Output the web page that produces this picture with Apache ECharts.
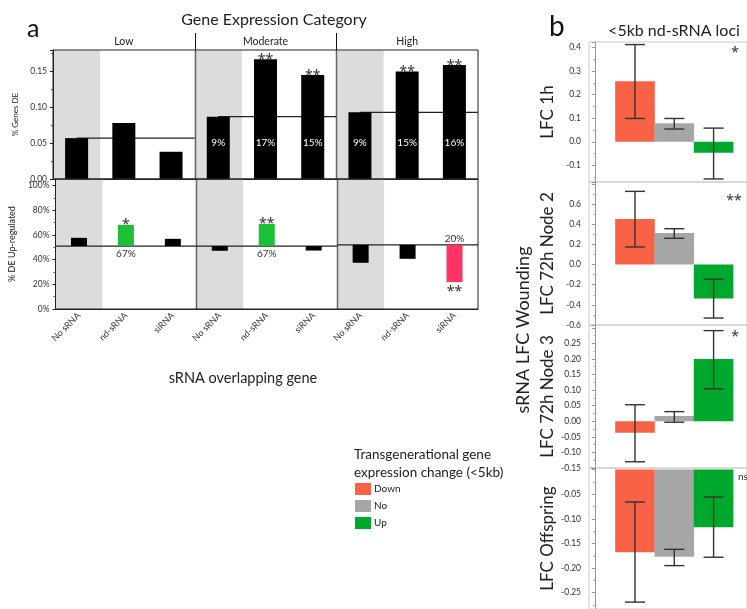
<!DOCTYPE html>
<html>
<head>
<meta charset="utf-8">
<script src="https://cdn.jsdelivr.net/npm/echarts@6.0.0/dist/echarts.min.js"></script>
<style>
html,body{margin:0;padding:0;background:#ffffff;}
#chart{width:747px;height:609px;}
</style>
</head>
<body>
<div id="chart"></div>
<script>
// ---------- Panel a data ----------
const facets = ['Low', 'Moderate', 'High'];
const srnaTypes = ['No sRNA', 'nd-sRNA', 'siRNA'];
const pctGenesDE = [0.057, 0.078, 0.038, 0.087, 0.167, 0.145, 0.093, 0.150, 0.159];
const deInsideLabels = ['', '', '', '9%', '17%', '15%', '9%', '15%', '16%'];
const deStars = ['', '', '', '', '**', '**', '', '**', '**'];
const pctUpRegulated = [57.7, 68.2, 56.9, 47.2, 69.0, 47.4, 37.5, 40.7, 21.8];
const upBaselines = [51, 51, 52];
const upHighlight = ['', 'up', '', '', 'up', '', '', '', 'down'];
const upPctLabels = ['', '67%', '', '', '67%', '', '', '', '20%'];
const upStars = ['', '*', '', '', '**', '', '', '', '**'];
const deTicks = ['0.00', '0.05', '0.10', '0.15'];
const upTicks = ['0%', '20%', '40%', '60%', '80%', '100%'];

// ---------- Panel b data ----------
const lfcGroups = ['Down', 'No', 'Up'];
const lfc1h = [0.257, 0.079, -0.047];
const lfc1hErr = [[0.099, 0.413], [0.054, 0.099], [-0.158, 0.058]];
const lfcNode2 = [0.452, 0.314, -0.337];
const lfcNode2Err = [[0.175, 0.727], [0.261, 0.356], [-0.531, -0.145]];
const lfcNode3 = [-0.037, 0.017, 0.200];
const lfcNode3Err = [[-0.130, 0.053], [-0.003, 0.031], [0.104, 0.291]];
const lfcOffspring = [-0.168, -0.177, -0.117];
const lfcOffspringErr = [[-0.269, -0.066], [-0.195, -0.162], [-0.178, -0.056]];
const lfcPanelNames = ['LFC 1h', 'LFC 72h Node 2', 'LFC 72h Node 3', 'LFC Offspring'];
const lfcSig = ['*', '**', '*', 'ns'];
const ticks1h = ['-0.1', '0.0', '0.1', '0.2', '0.3', '0.4'];
const ticksNode2 = ['-0.6', '-0.4', '-0.2', '0.0', '0.2', '0.4', '0.6'];
const ticksNode3 = ['-0.15', '-0.10', '-0.05', '0.00', '0.05', '0.10', '0.15', '0.20', '0.25'];
const ticksOffspring = ['-0.25', '-0.20', '-0.15', '-0.10', '-0.05'];

// ---------- styling ----------
const FONT = 'Lato, "Open Sans", "Noto Sans", sans-serif';
const STAR_FONT = '"Noto Sans", "DejaVu Sans", sans-serif';
const COL = {
  down: '#f96244', no: '#a6a6a6', up: '#00a82d',
  upGreen: '#1dbf36', downPink: '#ff3366', band: '#dcdcdc'
};
const groupColors = [COL.down, COL.no, COL.up];

const xKeys = [];
facets.forEach(f => srnaTypes.forEach(t => xKeys.push(f + '|' + t)));
const bandIdx = facets.map((_, f) => f * srnaTypes.length);
const facetBreaks = bandIdx.slice(1);

function bandRender(params, api) {
  const cs = params.coordSys;
  const c = api.coord([api.value(0), 0]);
  const w = api.size([1, 0])[0];
  return {type: 'rect', shape: {x: c[0] - w / 2, y: cs.y + 0.5, width: w, height: cs.height - 0.5}, style: {fill: COL.band}};
}
function sepRender(params, api) {
  const cs = params.coordSys;
  const c = api.coord([api.value(0), 0]);
  const w = api.size([1, 0])[0];
  const x = Math.round(c[0] - w / 2) + 0.5;
  return {type: 'line', shape: {x1: x, y1: cs.y, x2: x, y2: cs.y + cs.height},
    style: {stroke: params.seriesName === 'strip' ? '#111' : '#666', lineWidth: params.seriesName === 'strip' ? 1 : 1.5}};
}
function deRefRender(params, api) {
  const f = api.value(0), v = api.value(1);
  const n = srnaTypes.length;
  const a = api.coord([f * n, v]);
  const b = api.coord([f * n + n - 1, v]);
  const w = api.size([1, 0])[0];
  return {type: 'line', shape: {x1: a[0], y1: a[1], x2: b[0] + w / 2, y2: a[1]}, style: {stroke: '#222', lineWidth: 1.2}};
}
function upRefRender(params, api) {
  const f = api.value(0), v = api.value(1);
  const n = srnaTypes.length;
  const a = api.coord([f * n, v]);
  const b = api.coord([f * n + n - 1, v]);
  const w = api.size([1, 0])[0];
  return {type: 'line', shape: {x1: a[0] - w / 2, y1: a[1], x2: b[0] + w / 2, y2: a[1]}, style: {stroke: '#222', lineWidth: 1.2}};
}
function starRender(params, api) {
  const i = api.value(0);
  const c = api.coord([i, api.value(1)]);
  return {type: 'text', style: {text: deStars[i], x: c[0], y: c[1] + 1, align: 'center', verticalAlign: 'middle',
    fontSize: 14, fontFamily: STAR_FONT, fill: '#333'}};
}
function upBarRender(params, api) {
  const i = api.value(0), v = api.value(1), base = api.value(2);
  const t = api.coord([i, v]), b = api.coord([i, base]);
  const w = 16;
  const hl = upHighlight[i];
  const fill = hl === 'up' ? COL.upGreen : (hl === 'down' ? COL.downPink : '#000');
  const children = [{type: 'rect', shape: {x: t[0] - w / 2, y: Math.min(t[1], b[1]), width: w, height: Math.abs(t[1] - b[1])}, style: {fill}}];
  const isUp = v >= base;
  if (upStars[i]) children.push({type: 'text', style: {text: upStars[i], x: t[0], y: isUp ? t[1] + 0.5 : t[1] + 10,
    align: 'center', verticalAlign: 'middle', fontSize: 14, fontFamily: STAR_FONT, fill: '#333'}});
  if (upPctLabels[i]) children.push({type: 'text', style: {text: upPctLabels[i], x: t[0], y: isUp ? b[1] + 8 : b[1] - 6,
    align: 'center', verticalAlign: 'middle', fontSize: 10, fontFamily: FONT, fill: '#333'}});
  return {type: 'group', children};
}
function errRender(params, api) {
  const x = api.value(0);
  const lo = api.coord([x, api.value(1)]);
  const hi = api.coord([x, api.value(2)]);
  const cap = 10;
  const st = {stroke: '#333', lineWidth: 1.4};
  return {type: 'group', children: [
    {type: 'line', shape: {x1: lo[0], y1: lo[1], x2: hi[0], y2: hi[1]}, style: st},
    {type: 'line', shape: {x1: lo[0] - cap, y1: lo[1], x2: lo[0] + cap, y2: lo[1]}, style: st},
    {type: 'line', shape: {x1: hi[0] - cap, y1: hi[1], x2: hi[0] + cap, y2: hi[1]}, style: st}
  ]};
}
function tickFormatter(list) {
  const dec = (list[0].split('.')[1] || '').length;
  return v => {
    let s = v.toFixed(dec);
    if (/^-0\.0*$/.test(s)) s = s.slice(1);
    return list.includes(s) ? s : '';
  };
}

// ---------- grids ----------
const grids = [
  {left: 53, top: 33, width: 425, height: 17},                                   // 0 strip
  {left: 53, top: 50, width: 425, height: 129, show: true, borderColor: '#222', borderWidth: 1, z: 10, backgroundColor: 'transparent'}, // 1
  {left: 53, top: 179, width: 425, height: 130, show: true, borderColor: '#222', borderWidth: 1, z: 10, backgroundColor: 'transparent'}, // 2
  {left: 589, top: 42, width: 162, height: 140, show: true, borderColor: '#cccccc', borderWidth: 1},  // 3
  {left: 589, top: 182, width: 162, height: 143, show: true, borderColor: '#cccccc', borderWidth: 1}, // 4
  {left: 589, top: 325, width: 162, height: 143, show: true, borderColor: '#cccccc', borderWidth: 1}, // 5
  {left: 589, top: 468, width: 162, height: 145, show: true, borderColor: '#cccccc', borderWidth: 1}, // 6
  {left: 0, top: 0, width: 1, height: 1}                                          // 7 legend dummy
];

const xAxes = [
  {gridIndex: 0, type: 'category', data: facets, axisLine: {show: false}, axisTick: {show: false},
    axisLabel: {inside: true, margin: 3, fontSize: 10.5, color: '#222', fontFamily: FONT}},
  {gridIndex: 1, type: 'category', data: xKeys, axisLine: {lineStyle: {color: '#222'}}, axisTick: {show: false}, axisLabel: {show: false}},
  {gridIndex: 2, type: 'category', data: xKeys, axisLine: {lineStyle: {color: '#222'}}, axisTick: {show: false},
    axisLabel: {interval: 0, rotate: 45, fontSize: 9, color: '#333', fontFamily: FONT, margin: 5, formatter: v => v.split('|')[1]}},
];
const bOpts = [
  {min: -0.171, max: 0.424, split: 5, ticks: ticks1h},
  {min: -0.6, max: 0.82, split: 7, ticks: ticksNode2},
  {min: -0.15, max: 0.309, split: 9, ticks: ticksNode3},
  {min: -0.283, max: 0.003, split: 6, ticks: ticksOffspring}
];
for (let k = 0; k < 4; k++) xAxes.push({gridIndex: 3 + k, type: 'value', min: -0.17, max: 3.85, show: false});
xAxes.push({gridIndex: 7, type: 'category', data: ['x'], show: false});

const axisLabelA = {fontSize: 8.5, color: '#333', fontFamily: FONT, margin: 6};
const yAxes = [
  {gridIndex: 0, type: 'value', min: 0, max: 1, show: false},
  {gridIndex: 1, type: 'value', min: 0, max: 0.18, interval: 0.05, z: 12,
    axisLine: {show: true, lineStyle: {color: '#222'}}, axisTick: {show: true, length: 3, lineStyle: {color: '#222'}},
    minorTick: {show: true, splitNumber: 2, length: 2, lineStyle: {color: '#555'}}, splitLine: {show: false},
    axisLabel: Object.assign({}, axisLabelA, {formatter: tickFormatter(deTicks)}),
    name: '% Genes DE', nameLocation: 'middle', nameGap: 31, nameTextStyle: {fontSize: 8, color: '#222', fontFamily: FONT}},
  {gridIndex: 2, type: 'value', min: 0, max: 105.4, interval: 20, z: 12,
    axisLine: {show: true, lineStyle: {color: '#222'}}, axisTick: {show: true, length: 3, lineStyle: {color: '#222'}},
    minorTick: {show: true, splitNumber: 2, length: 2, lineStyle: {color: '#555'}}, splitLine: {show: false},
    axisLabel: Object.assign({}, axisLabelA, {formatter: v => { const s = Math.round(v) + '%'; return upTicks.includes(s) && Math.abs(v - Math.round(v)) < 1e-6 ? s : ''; }}),
    name: '% DE Up-regulated', nameLocation: 'middle', nameGap: 36, nameTextStyle: {fontSize: 9, color: '#222', fontFamily: FONT}}
];
bOpts.forEach((o, k) => yAxes.push({
  gridIndex: 3 + k, type: 'value', min: o.min, max: o.max, splitNumber: o.split,
  axisLine: {show: true, lineStyle: {color: '#999'}}, axisTick: {show: true, length: 4, lineStyle: {color: '#999'}},
  minorTick: {show: true, splitNumber: 2, length: 2, lineStyle: {color: '#aaa'}}, splitLine: {show: false},
  axisLabel: {fontSize: 8.5, color: '#333', fontFamily: FONT, margin: 8, formatter: tickFormatter(o.ticks)},
  name: lfcPanelNames[k], nameLocation: 'middle', nameGap: 33, nameTextStyle: {fontSize: 17, color: '#222', fontFamily: FONT}
}));
yAxes.push({gridIndex: 7, type: 'value', show: false});

// ---------- series ----------
const series = [
  {type: 'custom', name: 'strip', xAxisIndex: 0, yAxisIndex: 0, data: facets.map((_, f) => [f, 0]).slice(1), renderItem: sepRender, silent: true},
  {type: 'custom', xAxisIndex: 1, yAxisIndex: 1, z: 1, data: bandIdx.map(i => [i, 0]), renderItem: bandRender, silent: true},
  {type: 'custom', name: 'sep', xAxisIndex: 1, yAxisIndex: 1, z: 1, data: facetBreaks.map(i => [i, 0]), renderItem: sepRender, silent: true},
  {type: 'custom', xAxisIndex: 1, yAxisIndex: 1, z: 2, data: facets.map((_, f) => [f, pctGenesDE[f * srnaTypes.length]]), renderItem: deRefRender, silent: true},
  {type: 'bar', xAxisIndex: 1, yAxisIndex: 1, z: 3, barWidth: 23, data: pctGenesDE, itemStyle: {color: '#000'},
    label: {show: true, position: 'insideBottom', distance: 31, color: '#fff', fontSize: 10, fontFamily: FONT, formatter: p => deInsideLabels[p.dataIndex]}},
  {type: 'custom', xAxisIndex: 1, yAxisIndex: 1, z: 4, data: pctGenesDE.map((v, i) => [i, v]), renderItem: starRender, silent: true},
  {type: 'custom', xAxisIndex: 2, yAxisIndex: 2, z: 1, data: bandIdx.map(i => [i, 0]), renderItem: bandRender, silent: true},
  {type: 'custom', name: 'sep', xAxisIndex: 2, yAxisIndex: 2, z: 1, data: facetBreaks.map(i => [i, 0]), renderItem: sepRender, silent: true},
  {type: 'custom', xAxisIndex: 2, yAxisIndex: 2, z: 2, data: facets.map((_, f) => [f, upBaselines[f]]), renderItem: upRefRender, silent: true},
  {type: 'custom', xAxisIndex: 2, yAxisIndex: 2, z: 3, encode: {x: 0, y: 1},
    data: pctUpRegulated.map((v, i) => [i, v, upBaselines[Math.floor(i / srnaTypes.length)]]), renderItem: upBarRender, silent: true}
];
const bVals = [lfc1h, lfcNode2, lfcNode3, lfcOffspring];
const bErrs = [lfc1hErr, lfcNode2Err, lfcNode3Err, lfcOffspringErr];
bVals.forEach((vals, k) => {
  series.push({type: 'bar', xAxisIndex: 3 + k, yAxisIndex: 3 + k, barWidth: 39.6, z: 2,
    data: vals.map((v, i) => ({value: [i + 1, v], itemStyle: {color: groupColors[i]}}))});
  series.push({type: 'custom', xAxisIndex: 3 + k, yAxisIndex: 3 + k, z: 4, encode: {x: 0, y: [1, 2]},
    data: bErrs[k].map((e, i) => [i + 1, e[0], e[1]]), renderItem: errRender, silent: true});
});
lfcGroups.forEach((g, i) => series.push({type: 'bar', name: g, xAxisIndex: 7, yAxisIndex: 7, data: [], itemStyle: {color: groupColors[i]}}));

// significance annotations for panel b
const sigPos = [[735, 53], [734, 201], [735, 337], [738, 477]];
const graphics = lfcSig.map((s, k) => ({type: 'text', x: sigPos[k][0], y: sigPos[k][1],
  style: {text: s, fontSize: s === 'ns' ? 10 : 14, fontFamily: s === 'ns' ? FONT : STAR_FONT, fill: '#333',
    align: s === 'ns' ? 'left' : 'center', verticalAlign: 'middle'}}));
graphics.push({type: 'text', x: 523, y: 330, rotation: Math.PI / 2,
  style: {text: 'sRNA LFC Wounding', fontSize: 18, fontFamily: FONT, fill: '#222', align: 'center', verticalAlign: 'middle'}});

const option = {
  animation: false,
  backgroundColor: '#fff',
  textStyle: {fontFamily: FONT},
  title: [
    {text: 'a', left: 22, top: 11, textStyle: {fontSize: 25, fontWeight: 'normal', color: '#111', fontFamily: FONT}},
    {text: 'Gene Expression Category', left: 269, top: 7, textAlign: 'center', textStyle: {fontSize: 16, fontWeight: 'normal', color: '#222', fontFamily: FONT}},
    {text: 'b', left: 544, top: 8, textStyle: {fontSize: 28, fontWeight: 'normal', color: '#111', fontFamily: FONT}},
    {text: '<5kb nd-sRNA loci', left: 669, top: 18, textAlign: 'center', textStyle: {fontSize: 16, fontWeight: 'normal', color: '#222', fontFamily: FONT}},
    {text: 'sRNA overlapping gene', left: 238, top: 366, textAlign: 'center', textStyle: {fontSize: 14.5, fontWeight: 'normal', color: '#222', fontFamily: FONT}},
    {text: 'Transgenerational gene\nexpression change (<5kb)', left: 349, top: 441, textStyle: {fontSize: 13.5, lineHeight: 18, fontWeight: 'normal', color: '#222', fontFamily: FONT}}
  ],
  legend: {data: lfcGroups, left: 350, top: 478, orient: 'vertical', itemWidth: 16, itemHeight: 12, itemGap: 5, icon: 'rect',
    selectedMode: false, textStyle: {fontSize: 10, color: '#222', fontFamily: FONT, padding: [0, 0, 0, -2]}},
  grid: grids,
  xAxis: xAxes,
  yAxis: yAxes,
  series: series,
  graphic: graphics
};
const chart = echarts.init(document.getElementById('chart'));
chart.setOption(option);
</script>
</body>
</html>
